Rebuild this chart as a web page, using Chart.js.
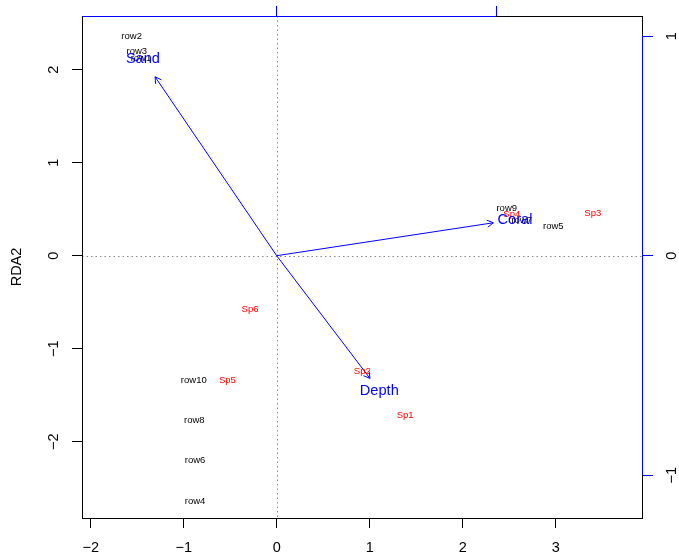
<!DOCTYPE html>
<html>
<head>
<meta charset="utf-8">
<script src="https://cdn.jsdelivr.net/npm/chart.js@4.4.0/dist/chart.umd.min.js"></script>
<style>
  html, body { margin: 0; padding: 0; background: #fff; }
  canvas { display: block; }
</style>
</head>
<body>
<canvas id="rdaChart" width="679" height="556"></canvas>
<script>
// Site scores (black labels)
const siteNames = ['row1', 'row2', 'row3', 'row4', 'row5', 'row6', 'row7', 'row8', 'row9', 'row10'];
const siteX = [-1.46, -1.56, -1.505, -0.878, 2.974, -0.878, 2.634, -0.886, 2.473, -0.892];
const siteY = [2.126, 2.363, 2.194, -2.645, 0.319, -2.204, 0.384, -1.767, 0.513, -1.337];

// Species scores (red labels)
const speciesNames = ['Sp1', 'Sp2', 'Sp3', 'Sp4', 'Sp5', 'Sp6'];
const speciesX = [1.38, 0.92, 3.398, 2.527, -0.531, -0.287];
const speciesY = [-1.713, -1.247, 0.452, 0.448, -1.337, -0.573];

// Environmental arrows, in the biplot scale (top / right axes)
const envNames = ['Depth', 'Coral', 'Sand'];
const envX = [0.425, 0.987, -0.554];
const envY = [-0.559, 0.150, 0.815];

// Tick labels
const xTicks = [-2, -1, 0, 1, 2, 3];
const yTicks = [-2, -1, 0, 1, 2];
const biplotTicks = [-1, 0, 1];

const FONT = '"Liberation Sans", Arial, Helvetica, sans-serif';
const BLUE = '#0000FF';

function minus(v) {
    return String(v).replace('-', '\u2212');
}

function fixedTicks(list) {
    return (scale) => {
        scale.ticks = list
            .filter(v => v >= scale.min && v <= scale.max)
            .map(v => ({ value: v }));
    };
}

const rdaPlugin = {
    id: 'rdaPlot',
    beforeDatasetsDraw(chart) {
        const { ctx, chartArea: a, scales } = chart;
        ctx.save();
        // dotted zero lines
        ctx.strokeStyle = '#888';
        ctx.lineWidth = 1;
        ctx.setLineDash([1.5, 3]);
        const x0 = Math.round(scales.x.getPixelForValue(0)) + 0.5;
        const y0 = Math.round(scales.y.getPixelForValue(0)) + 0.5;
        ctx.beginPath();
        ctx.moveTo(x0, a.top); ctx.lineTo(x0, a.bottom);
        ctx.moveTo(a.left, y0); ctx.lineTo(a.right, y0);
        ctx.stroke();
        ctx.restore();
    },
    afterDatasetsDraw(chart) {
        const { ctx, chartArea: a, scales } = chart;
        ctx.save();

        // plot box
        ctx.strokeStyle = '#000';
        ctx.lineWidth = 1;
        ctx.strokeRect(a.left + 0.5, a.top + 0.5, a.right - a.left - 1, a.bottom - a.top);

        // blue biplot axis lines (from first to last tick inside the range)
        ctx.strokeStyle = BLUE;
        const x2 = scales.x2, y2 = scales.y2;
        const tx = biplotTicks.filter(v => v >= x2.min && v <= x2.max);
        const ty = biplotTicks.filter(v => v >= y2.min && v <= y2.max);
        ctx.beginPath();
        ctx.moveTo(a.left, a.top + 0.5);
        ctx.lineTo(x2.getPixelForValue(Math.max(...tx)), a.top + 0.5);
        ctx.moveTo(a.right - 0.5, y2.getPixelForValue(Math.max(...ty)));
        ctx.lineTo(a.right - 0.5, y2.getPixelForValue(Math.min(...ty)));
        ctx.stroke();

        // rotated y tick labels
        ctx.fillStyle = '#000';
        ctx.font = `14.5px ${FONT}`;
        ctx.textAlign = 'center';
        ctx.textBaseline = 'middle';
        yTicks.forEach(v => {
            ctx.save();
            ctx.translate(54, scales.y.getPixelForValue(v));
            ctx.rotate(-Math.PI / 2);
            ctx.fillText(minus(v), 0, 0);
            ctx.restore();
        });
        ty.forEach(v => {
            ctx.save();
            ctx.translate(672, y2.getPixelForValue(v));
            ctx.rotate(-Math.PI / 2);
            ctx.fillText(minus(v), 0, 0);
            ctx.restore();
        });
        // axis title
        ctx.save();
        ctx.translate(17, (a.top + a.bottom) / 2);
        ctx.rotate(-Math.PI / 2);
        ctx.fillText('RDA2', 0, 0);
        ctx.restore();

        // site and species labels
        ctx.font = `9.5px ${FONT}`;
        const drawLabels = (idx, names, color) => {
            ctx.fillStyle = color;
            chart.getDatasetMeta(idx).data.forEach((pt, i) => {
                ctx.fillText(names[i], pt.x, pt.y);
            });
        };
        drawLabels(0, siteNames, '#000');
        drawLabels(1, speciesNames, '#FF0000');

        // arrow heads and labels
        ctx.strokeStyle = BLUE;
        ctx.fillStyle = BLUE;
        ctx.font = `14.6px ${FONT}`;
        envNames.forEach((name, i) => {
            const pts = chart.getDatasetMeta(2 + i).data;
            const p0 = pts[0], p1 = pts[1];
            const ang = Math.atan2(p1.y - p0.y, p1.x - p0.x);
            const len = 7;
            ctx.beginPath();
            ctx.moveTo(p1.x - len * Math.cos(ang - Math.PI / 6), p1.y - len * Math.sin(ang - Math.PI / 6));
            ctx.lineTo(p1.x, p1.y);
            ctx.lineTo(p1.x - len * Math.cos(ang + Math.PI / 6), p1.y - len * Math.sin(ang + Math.PI / 6));
            ctx.stroke();
            ctx.fillText(name, x2.getPixelForValue(envX[i] * 1.1), y2.getPixelForValue(envY[i] * 1.1));
        });
        ctx.restore();
    }
};

const arrowSets = envNames.map((name, i) => ({
    label: name,
    type: 'line',
    data: [{ x: 0, y: 0 }, { x: envX[i], y: envY[i] }],
    borderColor: BLUE,
    borderWidth: 1,
    pointRadius: 0,
    fill: false,
    xAxisID: 'x2',
    yAxisID: 'y2'
}));

new Chart(document.getElementById('rdaChart'), {
    type: 'scatter',
    data: {
        datasets: [
            {
                label: 'sites',
                data: siteX.map((x, i) => ({ x: x, y: siteY[i] })),
                pointRadius: 0,
                xAxisID: 'x',
                yAxisID: 'y'
            },
            {
                label: 'species',
                data: speciesX.map((x, i) => ({ x: x, y: speciesY[i] })),
                pointRadius: 0,
                xAxisID: 'x',
                yAxisID: 'y'
            },
            ...arrowSets
        ]
    },
    options: {
        responsive: false,
        animation: false,
        devicePixelRatio: 1,
        layout: { padding: 0 },
        plugins: {
            legend: { display: false },
            tooltip: { enabled: false }
        },
        scales: {
            x: {
                type: 'linear',
                position: 'bottom',
                min: -2.094,
                max: 3.938,
                afterBuildTicks: fixedTicks(xTicks),
                afterFit: (s) => { s.height = 38; },
                border: { display: false },
                grid: { drawOnChartArea: false, tickLength: 10, color: '#000' },
                ticks: {
                    color: '#000',
                    font: { family: FONT, size: 14.5 },
                    padding: 11,
                    maxRotation: 0,
                    autoSkip: false,
                    callback: (v) => minus(v)
                }
            },
            y: {
                type: 'linear',
                position: 'left',
                min: -2.821,
                max: 2.577,
                afterBuildTicks: fixedTicks(yTicks),
                afterFit: (s) => { s.width = 82; },
                border: { display: false },
                grid: { drawOnChartArea: false, tickLength: 10, color: '#000' },
                ticks: { display: false }
            },
            x2: {
                type: 'linear',
                position: 'top',
                min: -0.887,
                max: 1.669,
                afterBuildTicks: fixedTicks(biplotTicks),
                afterFit: (s) => { s.height = 16; },
                border: { display: false },
                grid: { drawOnChartArea: false, tickLength: 10, color: BLUE },
                ticks: { display: false }
            },
            y2: {
                type: 'linear',
                position: 'right',
                min: -1.195,
                max: 1.092,
                afterBuildTicks: fixedTicks(biplotTicks),
                afterFit: (s) => { s.width = 36; },
                border: { display: false },
                grid: { drawOnChartArea: false, tickLength: 10, color: BLUE },
                ticks: { display: false }
            }
        }
    },
    plugins: [rdaPlugin]
});
</script>
</body>
</html>
